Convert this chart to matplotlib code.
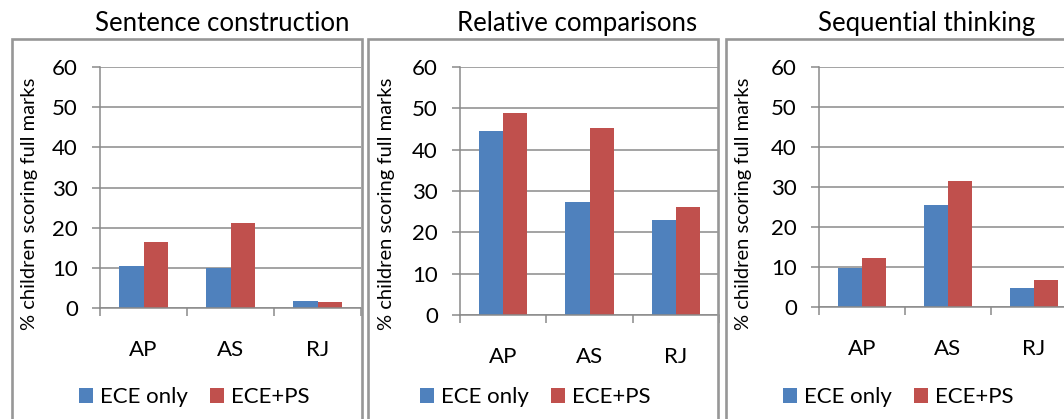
import matplotlib
matplotlib.use('Agg')
import matplotlib.pyplot as plt
from matplotlib.patches import Rectangle
import numpy as np

# data
titles = ['Sentence construction', 'Relative comparisons', 'Sequential thinking']
states = ['AP', 'AS', 'RJ']
ece_only = [[10.4, 9.9, 1.7], [44.4, 27.3, 23.1], [9.7, 25.5, 4.9]]
ece_ps = [[16.4, 21.1, 1.4], [48.9, 45.1, 26.2], [12.3, 31.5, 6.8]]
series_names = ['ECE only', 'ECE+PS']
yticks = [0, 10, 20, 30, 40, 50, 60]

BLUE = '#4F81BD'
RED = '#C0504D'
GRID = '#8a8a8a'
BORDER = '#979797'

plt.rcParams['font.family'] = ['Lato', 'DejaVu Sans']

W, H = 1064, 419
fig = plt.figure(figsize=(W / 100, H / 100), dpi=100)


def px_rect(left, top, right, bottom):
    return [left / W, 1 - bottom / H, (right - left) / W, (bottom - top) / H]


# plot area (left, y60, right, y0) in pixels, the outer box and text spots
plot_px = [(100, 67, 361, 308), (460, 66.7, 719, 315.3), (819, 67, 1077, 307.3)]
box_px = [(11.5, 39, 361.5), (367.5, 39, 718), (725.5, 39, 1100)]
title_x = [222, 577, 927]
ylabel_x = [30, 387, 743]
legend_x = [194, 535, 898]

for i in range(3):
    l, t, r, b = plot_px[i]
    ax = fig.add_axes(px_rect(l, t, r, b))
    x = np.arange(len(states))
    ax.bar(x - 0.14, ece_only[i], width=0.28, color=BLUE, label=series_names[0], zorder=2)
    ax.bar(x + 0.14, ece_ps[i], width=0.28, color=RED, label=series_names[1], zorder=2)
    ax.set_xlim(-0.5, 2.5)
    ax.set_ylim(0, 60)
    ax.set_yticks(yticks)
    ax.yaxis.grid(True, color=GRID, linewidth=1.1)
    ax.set_axisbelow(True)
    for side in ['top', 'right']:
        ax.spines[side].set_visible(False)
    for side in ['left', 'bottom']:
        ax.spines[side].set_color(GRID)
        ax.spines[side].set_linewidth(1.1)
    ax.tick_params(axis='y', length=6, width=1.1, color=GRID, pad=10, labelsize=16)
    # category labels in the middle, tick marks at the boundaries
    ax.set_xticks(x)
    ax.set_xticklabels(states)
    ax.set_xticks([-0.5, 0.5, 1.5, 2.5], minor=True)
    ax.tick_params(axis='x', which='major', length=0, pad=23, labelsize=16)
    ax.tick_params(axis='x', which='minor', length=6, width=1.1, color=GRID)

    # outer chart border (cut off at the bottom of the image)
    bl, bt, br = box_px[i]
    fig.patches.append(Rectangle((bl / W, -0.2), (br - bl) / W, 1.2 - bt / H,
                                 transform=fig.transFigure, fill=False,
                                 edgecolor=BORDER, linewidth=1.9))

    fig.text(title_x[i] / W, 1 - 31 / H, titles[i], ha='center', va='baseline', fontsize=18.5)
    fig.text(ylabel_x[i] / W, 1 - 204 / H, '% children scoring full marks',
             rotation=90, ha='center', va='center', fontsize=14.5)

    handles, labels = ax.get_legend_handles_labels()
    fig.legend(handles, labels, loc='center', bbox_to_anchor=(legend_x[i] / W, 1 - 397 / H),
               ncol=2, frameon=False, fontsize=16, handlelength=0.65, handleheight=0.65,
               handletextpad=0.3, columnspacing=1.0, borderpad=0, borderaxespad=0)

fig.savefig('out.png', dpi=100)
